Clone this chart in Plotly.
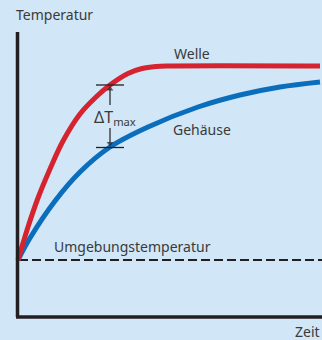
import plotly.graph_objects as go

# Heating curves: time (arbitrary units) vs. temperature rise above ambient
welle_t = [0, 10, 20, 32, 45, 62, 78, 92, 110, 124, 138, 152, 302]
welle_T = [0, 33, 62, 91, 119, 146, 163, 175, 186.5, 191.5, 193.5, 194, 194]

gehaeuse_t = [0, 12, 37, 62, 92, 130, 180, 222, 262, 302]
gehaeuse_T = [0, 22, 59, 88, 113, 133, 153, 165, 173, 178]

ambient_t = [1, 304]
ambient_T = [0, 0]

# Temperature difference shown at this time
dt_time = 92
dt_upper = 175
dt_lower = 112.5

BG = "#d1e6f6"
RED = "#d52330"
BLUE = "#0a6ebd"
INK = "#231f20"
TEXT = "#3a3a3a"
FONT = "Noto Sans"

fig = go.Figure()

fig.add_trace(go.Scatter(x=ambient_t, y=ambient_T, mode="lines",
                         line=dict(color=INK, width=2, dash="9px,4px"),
                         hoverinfo="skip"))
fig.add_trace(go.Scatter(x=gehaeuse_t, y=gehaeuse_T, mode="lines",
                         line=dict(color=BLUE, width=5, shape="spline", smoothing=1.0),
                         hoverinfo="skip"))
fig.add_trace(go.Scatter(x=welle_t, y=welle_T, mode="lines",
                         line=dict(color=RED, width=5, shape="spline", smoothing=1.0),
                         hoverinfo="skip"))

# Axis lines
fig.add_shape(type="line", x0=-0.5, x1=-0.5, y0=228, y1=-57,
              line=dict(color=INK, width=3.5))
fig.add_shape(type="line", x0=-2, x1=304, y0=-57, y1=-57,
              line=dict(color=INK, width=3.5))

# Delta-T marker ticks
for yv in (dt_upper, dt_lower):
    fig.add_shape(type="line", x0=dt_time - 14, x1=dt_time + 14, y0=yv, y1=yv,
                  line=dict(color=INK, width=1.3))

# Arrow shafts
fig.add_shape(type="line", x0=dt_time, x1=dt_time, y0=155, y1=dt_upper - 4,
              line=dict(color=INK, width=1.2))
fig.add_shape(type="line", x0=dt_time, x1=dt_time, y0=132, y1=dt_lower + 4,
              line=dict(color=INK, width=1.2))
# Arrow heads
fig.add_trace(go.Scatter(x=[dt_time, dt_time], y=[dt_upper - 4, dt_lower + 4],
                         mode="markers",
                         marker=dict(symbol=["triangle-up", "triangle-down"],
                                     size=[6, 6], color=INK, line=dict(width=0)),
                         hoverinfo="skip"))

labels = [
    dict(text="ΔT<sub>max</sub>", x=74, y=143, xanchor="left", size=16),
    dict(text="Welle", x=174, y=207, xanchor="center", size=14),
    dict(text="Gehäuse", x=184, y=131, xanchor="center", size=14),
    dict(text="Umgebungstemperatur", x=114, y=14, xanchor="center", size=14),
    dict(text="Zeit", x=304, y=-71, xanchor="right", size=14),
    dict(text="Temperatur", x=-4, y=246, xanchor="left", size=14),
]
for lb in labels:
    fig.add_annotation(x=lb["x"], y=lb["y"], xref="x", yref="y", text=lb["text"],
                       showarrow=False, xanchor=lb["xanchor"], yanchor="middle",
                       font=dict(family=FONT, size=lb["size"], color=TEXT))

fig.update_layout(
    width=322, height=340,
    margin=dict(l=0, r=0, t=0, b=0),
    paper_bgcolor=BG, plot_bgcolor=BG,
    showlegend=False,
    xaxis=dict(range=[-18, 304], visible=False, fixedrange=True),
    yaxis=dict(range=[-80, 260], visible=False, fixedrange=True),
)

fig.write_html("out.html", config={"displayModeBar": False})
